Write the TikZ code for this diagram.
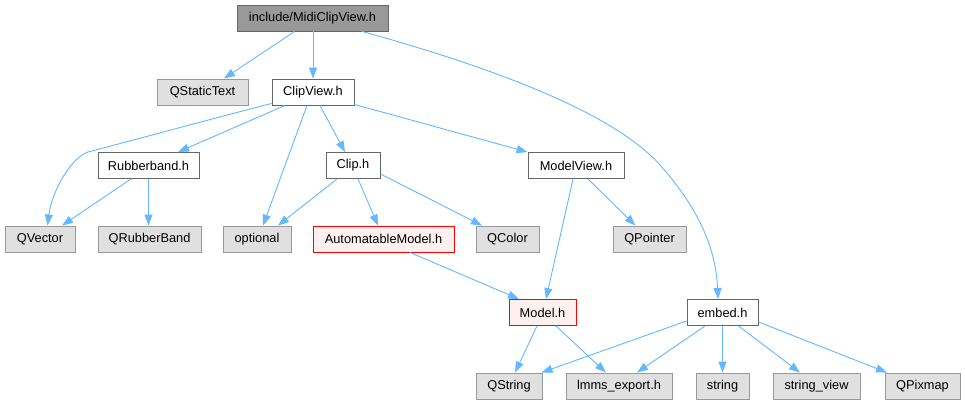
\documentclass[tikz,border=0pt]{standalone}
\usepackage{fontspec}
\setmainfont{Liberation Sans}
\usetikzlibrary{arrows.meta}
\definecolor{edgeblue}{HTML}{63B8FF}
\definecolor{grayfill}{HTML}{E0E0E0}
\definecolor{grayline}{HTML}{999999}
\definecolor{darkline}{HTML}{666666}
\definecolor{redfill}{HTML}{FFF0F0}
\definecolor{topfill}{HTML}{999999}
\tikzset{
  box/.style={draw, rectangle, inner sep=0pt, minimum height=26pt, line width=0.9pt,
    font=\fontsize{12.8}{15}\selectfont, text=black},
  extbox/.style={box, draw=grayline, fill=grayfill},
  filebox/.style={box, draw=darkline, fill=white},
  redbox/.style={box, draw=red, fill=redfill},
  topbox/.style={box, draw=darkline, fill=topfill},
  edge/.style={draw=edgeblue, line width=0.9pt, -{Triangle[length=11pt,width=8pt]}},
}
\begin{document}
\begin{tikzpicture}[x=1pt,y=-1pt]
\useasboundingbox (0,0) rectangle (965,405);
% row 1
\node[topbox, minimum width=151pt] (mcv) at (312.5,18) {include/MidiClipView.h};
% row 2
\node[extbox, minimum width=91pt] (qst) at (202.5,92) {QStaticText};
\node[filebox, minimum width=82pt] (cv) at (313,92) {ClipView.h};
% row 3
\node[filebox, minimum width=101pt] (rb) at (148.5,165.5) {Rubberband.h};
\node[filebox, minimum width=54pt] (clip) at (353,165.5) {Clip.h};
\node[filebox, minimum width=96pt] (mv) at (576,165.5) {ModelView.h};
% row 4
\node[extbox, minimum width=70pt] (qv) at (40,239) {QVector};
\node[extbox, minimum width=103pt] (qrb) at (149.5,239) {QRubberBand};
\node[extbox, minimum width=68pt] (opt) at (257,239) {optional};
\node[redbox, minimum width=141pt] (am) at (383.5,239) {AutomatableModel.h};
\node[extbox, minimum width=63pt] (qc) at (507.5,239) {QColor};
\node[extbox, minimum width=73pt] (qp) at (649.5,239) {QPointer};
% row 5
\node[redbox, minimum width=67pt] (mod) at (542.5,312.5) {Model.h};
\node[filebox, minimum width=71pt] (emb) at (722.5,312.5) {embed.h};
% row 6
\node[extbox, minimum width=66pt] (qs) at (509,386) {QString};
\node[extbox, minimum width=106pt] (lm) at (619,386) {lmms\_export.h};
\node[extbox, minimum width=53pt] (str) at (722.5,386) {string};
\node[extbox, minimum width=87pt] (sv) at (816.5,386) {string\_view};
\node[extbox, minimum width=75pt] (qpx) at (922.5,386) {QPixmap};

% edges
\draw[edge] ([xshift=-18pt]mcv.south) -- ([xshift=21.5pt]qst.north);
\draw[edge] ([xshift=0.5pt]mcv.south) -- (cv.north);
\draw[edge] ([xshift=49.5pt]mcv.south) .. controls (520,75) and (620,120) .. (660,165)
   .. controls (700,210) and (716,250) .. ([xshift=-4.5pt]emb.north);

\draw[edge] ([yshift=2pt]cv.south west) .. controls (211,119) and (149,136) .. (88,152)
   .. controls (72,157) and (52,190) .. ([xshift=7.5pt]qv.north);
\draw[edge] ([xshift=-28pt]cv.south) -- ([xshift=29.5pt]rb.north);
\draw[edge] ([xshift=-6pt]cv.south) -- ([xshift=6pt]opt.north);
\draw[edge] ([xshift=7pt]cv.south) -- ([xshift=-8pt]clip.north);
\draw[edge] ([yshift=1pt]cv.south east) -- (mv.north west);

\draw[edge] ([xshift=-17.5pt]rb.south) -- ([xshift=22pt]qv.north);
\draw[edge] (rb.south) -- (rb.south |- qrb.north);

\draw[edge] ([xshift=-16pt]clip.south) -- ([xshift=21pt]opt.north);
\draw[edge] ([xshift=5pt]clip.south) -- ([xshift=-5.5pt]am.north);
\draw[edge] ([yshift=5pt]clip.south east) -- ([xshift=-25.5pt]qc.north);

\draw[edge] ([xshift=-3pt]mv.south) -- ([xshift=3.5pt]mod.north);
\draw[edge] ([xshift=12pt]mv.south) -- ([xshift=-14pt]qp.north);

\draw[edge] ([xshift=26.5pt]am.south) -- ([xshift=-23.5pt]mod.north);

\draw[edge] ([xshift=-5.5pt]mod.south) -- ([xshift=6pt]qs.north);
\draw[edge] ([xshift=13.5pt]mod.south) -- ([xshift=-13pt]lm.north);

\draw[edge] ([yshift=5pt]emb.south west) -- ([xshift=-1pt]qs.north east);
\draw[edge] ([xshift=-17.5pt]emb.south) -- ([xshift=18pt]lm.north);
\draw[edge] (emb.south) -- (str.north);
\draw[edge] ([xshift=16pt]emb.south) -- ([xshift=-16.5pt]sv.north);
\draw[edge] ([yshift=4pt]emb.south east) -- ([xshift=-35.5pt]qpx.north);
\end{tikzpicture}
\end{document}
